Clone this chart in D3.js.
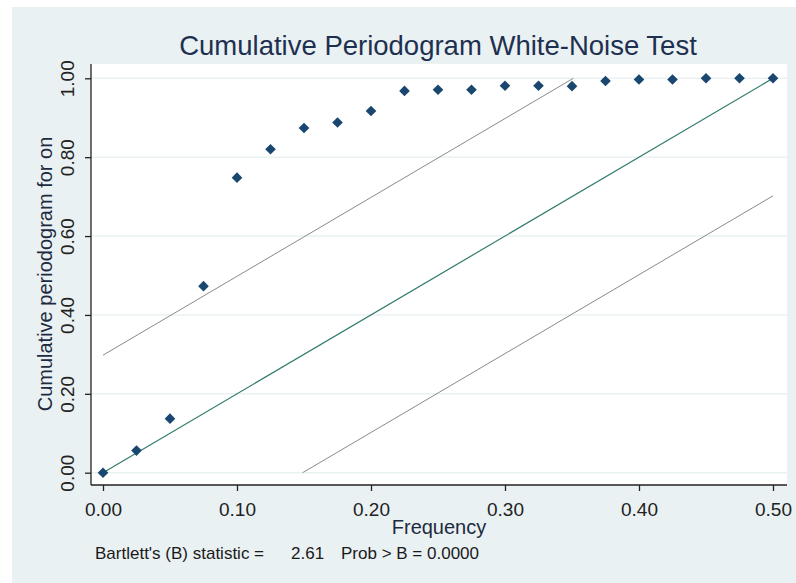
<!DOCTYPE html>
<html lang="en">
    <head>
        <meta charset="utf-8">
        <title>Cumulative Periodogram</title>
        <script src="https://d3js.org/d3.v7.min.js"></script>
        <style>
            body { margin: 0; background: #fff; }
            text { font-family: "Liberation Sans", Arial, sans-serif; }
        </style>
    </head>
    <body>
        <div id="dataviz"></div>
        <script>
            // values
            var frequency = [0, 0.025, 0.05, 0.075, 0.1, 0.125, 0.15, 0.175, 0.2, 0.225, 0.25,
                             0.275, 0.3, 0.325, 0.35, 0.375, 0.4, 0.425, 0.45, 0.475, 0.5];
            var cumPeriodogram = [0, 0.056, 0.137, 0.473, 0.748, 0.82, 0.874, 0.888, 0.917, 0.968, 0.971,
                                  0.971, 0.981, 0.981, 0.98, 0.993, 0.997, 0.997, 1.0, 1.0, 1.0];
            var whiteNoiseLine = [[0, 0], [0.5, 1]];
            var upperBand = [[0, 0.298], [0.351, 1]];
            var lowerBand = [[0.149, 0], [0.5, 0.702]];
            var xTicks = [0, 0.1, 0.2, 0.3, 0.4, 0.5];
            var yTicks = [0, 0.2, 0.4, 0.6, 0.8, 1.0];

            var W = 796, H = 583;
            var svg = d3.select("#dataviz").append("svg")
                        .attr("width", W).attr("height", H);

            // outer background (white strip at top and left)
            svg.append("rect").attr("x", 12).attr("y", 7)
                .attr("width", W - 12).attr("height", H - 7)
                .attr("fill", "#eaf1f3");

            var plot = {left: 91, right: 787, top: 64, bottom: 485};
            svg.append("rect").attr("x", plot.left).attr("y", plot.top)
                .attr("width", plot.right - plot.left).attr("height", plot.bottom - plot.top)
                .attr("fill", "#fff");

            var x = d3.scaleLinear().domain([0, 0.5]).range([103, 773]);
            var y = d3.scaleLinear().domain([0, 1]).range([472.7, 78.3]);

            // grid lines
            svg.append("g").selectAll("line").data(yTicks).enter().append("line")
                .attr("x1", plot.left).attr("x2", plot.right)
                .attr("y1", function(d) { return y(d); })
                .attr("y2", function(d) { return y(d); })
                .attr("stroke", "#eaf1f3").attr("stroke-width", 1.5);

            // left axis
            var yAxis = svg.append("g")
                .attr("transform", "translate(" + plot.left + ",0)")
                .call(d3.axisLeft(y).tickValues(yTicks).tickFormat(d3.format(".2f")).tickSize(6).tickPadding(0));
            yAxis.select(".domain").attr("d", "M0," + plot.top + "V" + plot.bottom).attr("stroke", "#222").attr("stroke-width", 1.3);
            yAxis.selectAll(".tick line").attr("stroke", "#222").attr("stroke-width", 1.3);
            yAxis.selectAll(".tick text")
                .attr("x", 0).attr("y", 0).attr("dy", null)
                .attr("transform", "translate(-24,0) rotate(-90)")
                .attr("text-anchor", "middle")
                .attr("dominant-baseline", "central")
                .style("font-size", "19px").attr("fill", "#222");

            // bottom axis
            var xAxis = svg.append("g")
                .attr("transform", "translate(0," + plot.bottom + ")")
                .call(d3.axisBottom(x).tickValues(xTicks).tickFormat(d3.format(".2f")).tickSize(6).tickPadding(12));
            xAxis.select(".domain").attr("d", "M" + plot.left + ",0H" + plot.right).attr("stroke", "#222").attr("stroke-width", 1.3);
            xAxis.selectAll(".tick line").attr("stroke", "#222").attr("stroke-width", 1.3);
            xAxis.selectAll(".tick text").style("font-size", "19px").attr("fill", "#222");

            // band and reference lines
            var line = d3.line().x(function(d) { return x(d[0]); }).y(function(d) { return y(d[1]); });
            svg.append("path").datum(upperBand).attr("d", line)
                .attr("fill", "none").attr("stroke", "#8a8a8a").attr("stroke-width", 1);
            svg.append("path").datum(lowerBand).attr("d", line)
                .attr("fill", "none").attr("stroke", "#8a8a8a").attr("stroke-width", 1);
            svg.append("path").datum(whiteNoiseLine).attr("d", line)
                .attr("fill", "none").attr("stroke", "#2f7a6c").attr("stroke-width", 1.2);

            // cumulative periodogram points
            var pts = frequency.map(function(f, i) { return [f, cumPeriodogram[i]]; });
            svg.append("g").selectAll("path").data(pts).enter().append("path")
                .attr("d", d3.symbol().type(d3.symbolDiamond2).size(72))
                .attr("transform", function(d) { return "translate(" + x(d[0]) + "," + y(d[1]) + ")"; })
                .attr("fill", "#1a476f");

            // titles
            svg.append("text").attr("x", 438).attr("y", 55)
                .attr("text-anchor", "middle")
                .style("font-size", "27.5px").attr("fill", "#1e3050")
                .text("Cumulative Periodogram White-Noise Test");

            svg.append("text")
                .attr("transform", "translate(52,274) rotate(-90)")
                .attr("text-anchor", "middle")
                .style("font-size", "20px").attr("fill", "#1e2a40")
                .text("Cumulative periodogram for on");

            svg.append("text").attr("x", 439).attr("y", 534)
                .attr("text-anchor", "middle")
                .style("font-size", "20px").attr("fill", "#1e2a40")
                .text("Frequency");

            // Bartlett note
            var note = svg.append("g").style("font-size", "17px").attr("fill", "#1a1a1a");
            note.append("text").attr("x", 95).attr("y", 559).text("Bartlett's (B) statistic =");
            note.append("text").attr("x", 291).attr("y", 559).text("2.61");
            note.append("text").attr("x", 341).attr("y", 559).text("Prob > B = 0.0000");
        </script>
    </body>
</html>
